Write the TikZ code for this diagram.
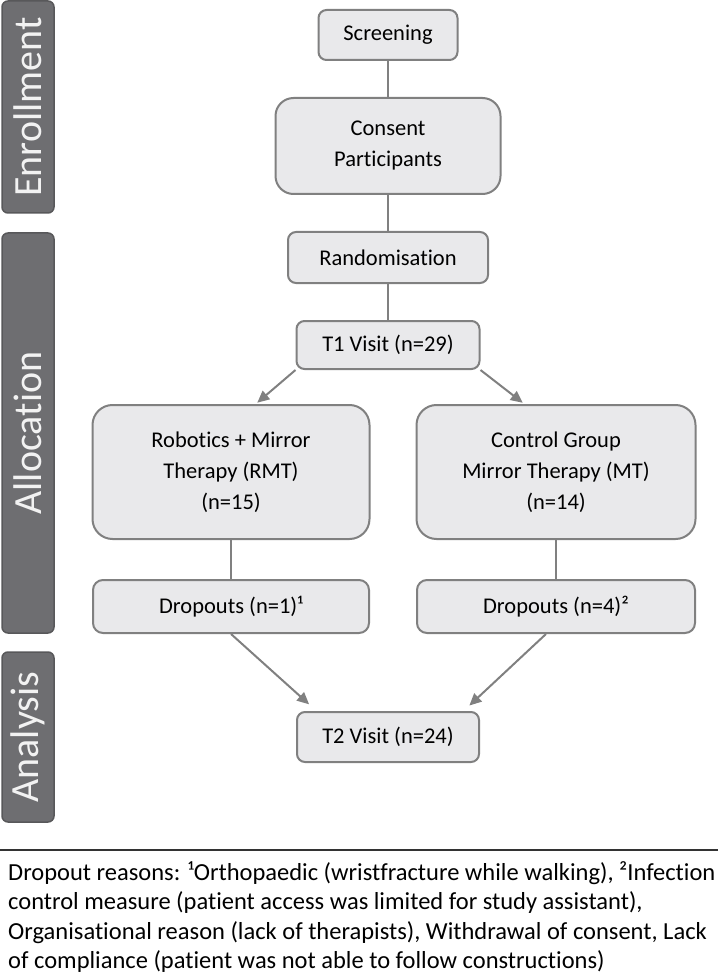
\documentclass[tikz,border=0pt]{standalone}
\usepackage{fontspec}
\setmainfont{Carlito}[Ligatures=NoCommon]
\usetikzlibrary{arrows.meta}

\definecolor{boxfill}{RGB}{233,233,235}
\definecolor{boxline}{RGB}{128,128,128}
\definecolor{barfill}{RGB}{110,110,113}
\definecolor{barline}{RGB}{88,88,90}
\definecolor{bartext}{RGB}{242,242,242}

\tikzset{
  flowbox/.style={draw=boxline, fill=boxfill, line width=2pt, rounded corners=8pt,
    inner sep=0pt, align=center, text=black, font=\fontsize{22.5}{31}\selectfont},
  bigbox/.style={flowbox, rounded corners=20pt},
  phasebar/.style={draw=barline, fill=barfill, line width=1.5pt, rounded corners=6pt,
    inner sep=0pt, minimum height=52pt, rotate=90, text=bartext,
    font=\fontsize{40}{40}\selectfont},
  link/.style={draw=boxline, line width=2pt},
  flowarrow/.style={link, -{Triangle[length=12pt,width=11pt]}},
  notetext/.style={anchor=base west, inner sep=0pt, text=black,
    font=\fontsize{24.5}{30}\selectfont},
}

\begin{document}
\begin{tikzpicture}[x=1pt,y=1pt,yscale=-1,xscale=1]
				\useasboundingbox (0,0) rectangle (718,973);
				
				% Phase bars
				\node [phasebar, minimum width=212pt] (enr) at (28,107) {Enrollment};
				\node [phasebar, minimum width=400pt] (alloc) at (28,433) {Allocation};
				\node [phasebar, minimum width=170pt] (ana) at (28,737) {Analysis};
				
				% Flow boxes
				\node [flowbox, minimum width=139pt, minimum height=50pt] (scr) at (388,35) {Screening};
				\node [bigbox, rounded corners=18pt, minimum width=225pt, minimum height=96pt] (cons) at (388,146) {Consent\\Participants};
				\node [flowbox, minimum width=200pt, minimum height=51pt] (rand) at (388,257.5) {Randomisation};
				\node [flowbox, minimum width=183pt, minimum height=48pt] (t1) at (388,345) {T1 Visit (n=29)};
				\node [bigbox, minimum width=277pt, minimum height=134pt] (rmt) at (231,472) {Robotics + Mirror\\Therapy (RMT)\\(n=15)};
				\node [bigbox, minimum width=279pt, minimum height=134pt] (ctl) at (556,472) {Control Group\\Mirror Therapy (MT)\\(n=14)};
				\node [flowbox, rounded corners=10pt, minimum width=276pt, minimum height=53pt] (dl) at (231,606.5) {Dropouts (n=1)¹};
				\node [flowbox, rounded corners=10pt, minimum width=278pt, minimum height=53pt] (dr) at (556,606.5) {Dropouts (n=4)²};
				\node [flowbox, minimum width=182pt, minimum height=50pt] (t2) at (388,737) {T2 Visit (n=24)};
				
				% Connectors
				\draw [link] (scr) -- (cons);
				\draw [link] (cons) -- (rand);
				\draw [link] (rand) -- (t1);
				\draw [flowarrow, shorten >=2pt] (t1.south west) -- (rmt.70);
				\draw [flowarrow, shorten >=2pt] (t1.south east) -- (ctl.115);
				\draw [link] (rmt) -- (dl);
				\draw [link] (ctl) -- (dr);
				\draw [flowarrow, shorten >=10pt] (dl.south) -- (t2.160);
				\draw [flowarrow, shorten >=8pt] (dr.250) -- (t2.19);
				
				% Footnote
				\draw [line width=2pt, black!80] (0,850) -- (718,850);
				\foreach \txt [count=\i from 0] in {{Dropout reasons: ¹Orthopaedic (wristfracture while walking), ²Infection},
					{control measure (patient access was limited for study assistant),},
					{Organisational reason (lack of therapists), Withdrawal of consent, Lack},
					{of compliance (patient was not able to follow constructions)}}
				\node [notetext] (note\i) at (8,{880+29.5*\i}) {\txt};
				
\end{tikzpicture}
\end{document}
